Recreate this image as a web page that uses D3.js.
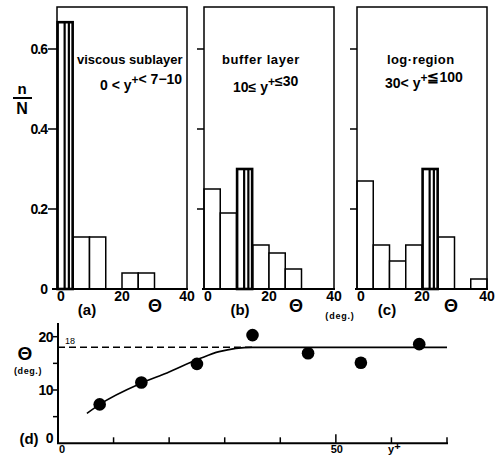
<!DOCTYPE html>
<html>
<head>
<meta charset="utf-8">
<script src="https://cdn.jsdelivr.net/npm/d3@7"></script>
<style>
body { margin: 0; background: #fff; }
svg text { font-family: "Liberation Sans", Arial, sans-serif; font-weight: bold; fill: #000; }
</style>
</head>
<body>
<svg></svg>
<script>
'use strict';

// histogram bins (deg.), 5 deg wide
var binStart = [0, 5, 10, 15, 20, 25, 30, 35];
// n/N in each bin
var viscousFreq = [0.667, 0.13, 0.13, 0, 0.04, 0.04, 0, 0];
var bufferFreq = [0.25, 0.19, 0.30, 0.11, 0.09, 0.05, 0, 0];
var logFreq = [0.27, 0.11, 0.07, 0.11, 0.30, 0.13, 0, 0.025];
// bin holding the mean angle (drawn hatched)
var meanBin = [0, 2, 4];
var histYTicks = [0, 0.2, 0.4, 0.6];
var histYLabels = ['0', '0.2', '0.4', '0.6'];
var histXTicks = [0, 20, 40];

// panel (d): mean angle vs y+
var yPlusPts = [7.5, 15, 25, 35, 45, 54.5, 65];
var thetaPts = [7.3, 11.4, 14.9, 20.3, 16.9, 15.1, 18.6];
var fitYPlus = [5.2, 7.5, 15, 19.6, 25.5, 29, 35, 70];
var fitTheta = [5.6, 7.3, 11.3, 13.2, 15.9, 17.2, 18, 18];
var thetaLimit = 18;
var dXTicks = [0, 10, 20, 30, 40, 50, 60, 70];
var dYTicks = [5, 10, 15, 20];
var dYLabels = [0, 10, 20];

var SVG_SIZE = { width: 495, height: 456 };
var svg = d3.select('svg').attr('width', SVG_SIZE.width).attr('height', SVG_SIZE.height);

// common vertical scale of the three histograms
var HIST = { top: 7, bottom: 289, width: 130 };
var yHist = d3.scaleLinear().domain([0, 0.6]).range([HIST.bottom, 49]);

var panels = [
    { left: 57, freq: viscousFreq, hatch: meanBin[0], tag: '(a)', tagX: 87, thetaX: 155 },
    { left: 204, freq: bufferFreq, hatch: meanBin[1], tag: '(b)', tagX: 240, thetaX: 296 },
    { left: 357, freq: logFreq, hatch: meanBin[2], tag: '(c)', tagX: 387, thetaX: 451 }
];

panels.forEach(function (p, pi) {
    var x = d3.scaleLinear().domain([0, 40]).range([p.left, p.left + HIST.width]);
    var g = svg.append('g');

    var bins = binStart.map(function (b, i) { return { x0: b, x1: b + 5, v: p.freq[i], hatch: i === p.hatch }; })
        .filter(function (d) { return d.v > 0; });

    // plain bars first, hatched one on top
    g.selectAll('rect.bar').data(bins.filter(function (d) { return !d.hatch; }))
        .enter().append('rect').attr('class', 'bar')
        .attr('x', function (d) { return x(d.x0); })
        .attr('y', function (d) { return yHist(d.v); })
        .attr('width', function (d) { return x(d.x1) - x(d.x0); })
        .attr('height', function (d) { return yHist(0) - yHist(d.v); })
        .attr('fill', '#fff').attr('stroke', '#000').attr('stroke-width', 1.5);

    var hb = bins.filter(function (d) { return d.hatch; });
    var hg = g.selectAll('g.hatch').data(hb).enter().append('g').attr('class', 'hatch');
    hg.append('rect')
        .attr('x', function (d) { return x(d.x0) + 0.6; })
        .attr('y', function (d) { return yHist(d.v); })
        .attr('width', function (d) { return x(d.x1) - x(d.x0) - 1.2; })
        .attr('height', function (d) { return yHist(0) - yHist(d.v); })
        .attr('fill', '#fff').attr('stroke', '#000').attr('stroke-width', 2.6);
    [0.47, 0.73].forEach(function (f) {
        hg.append('line')
            .attr('x1', function (d) { return x(d.x0) + f * (x(d.x1) - x(d.x0)); })
            .attr('x2', function (d) { return x(d.x0) + f * (x(d.x1) - x(d.x0)); })
            .attr('y1', function (d) { return yHist(d.v); })
            .attr('y2', yHist(0))
            .attr('stroke', '#000').attr('stroke-width', 2.2);
    });

    // frame
    g.append('rect')
        .attr('x', p.left).attr('y', HIST.top)
        .attr('width', HIST.width).attr('height', HIST.bottom - HIST.top)
        .attr('fill', 'none').attr('stroke', '#000').attr('stroke-width', 1.5);
    g.append('line')
        .attr('x1', p.left - (pi === 0 ? 5 : 2)).attr('x2', p.left + HIST.width + 1)
        .attr('y1', HIST.bottom).attr('y2', HIST.bottom)
        .attr('stroke', '#000').attr('stroke-width', 2);

    // y ticks on the left of the frame
    g.selectAll('line.ytick').data(histYTicks.slice(1)).enter().append('line')
        .attr('x1', p.left - (pi === 0 ? 9 : 7)).attr('x2', p.left)
        .attr('y1', function (d) { return yHist(d); }).attr('y2', function (d) { return yHist(d); })
        .attr('stroke', '#000').attr('stroke-width', 1.5);
    if (pi === 0) {
        g.selectAll('text.ylab').data(histYTicks).enter().append('text')
            .attr('x', p.left - 10).attr('y', function (d) { return yHist(d) + 5; })
            .attr('text-anchor', 'end').style('font-size', '14px').style('letter-spacing', '-1px')
            .text(function (d, i) { return histYLabels[i]; });
    }

    // x tick labels
    g.selectAll('text.xlab').data(histXTicks).enter().append('text')
        .attr('x', function (d) { return x(d) + (d === 0 ? 4 : 0); })
        .attr('y', 301)
        .attr('text-anchor', 'middle').style('font-size', '14px')
        .text(function (d) { return d; });

    g.append('text').attr('x', p.thetaX).attr('y', 312).attr('text-anchor', 'middle')
        .style('font-size', '18px').text('\u0398');
    g.append('text').attr('x', p.tagX).attr('y', 315).attr('text-anchor', 'middle')
        .style('font-size', '15px').text(p.tag);
});

// "(deg.)" under the theta axes
svg.append('text').attr('x', 340).attr('y', 319).attr('text-anchor', 'middle')
    .style('font-size', '9px').style('letter-spacing', '0.8px').text('(deg.)');

// n / N label
svg.append('text').attr('x', 22).attr('y', 94).attr('text-anchor', 'middle').style('font-size', '15px').text('n');
svg.append('line').attr('x1', 13).attr('x2', 32).attr('y1', 98).attr('y2', 98).attr('stroke', '#000').attr('stroke-width', 2);
svg.append('text').attr('x', 22).attr('y', 114).attr('text-anchor', 'middle').style('font-size', '16px').text('N');

// region captions
function caption(x, y, parts) {
    var t = svg.append('text').attr('x', x).attr('y', y).style('font-size', '13px');
    parts.forEach(function (s) {
        if (s === '+') {
            t.append('tspan').attr('dy', -6).style('font-size', '12px').text('+');
            t.append('tspan').attr('dy', 6).text('');
        } else {
            t.append('tspan').text(s);
        }
    });
    return t;
}
caption(77, 64, ['viscous sublayer']);
caption(100, 90, ['0 < y', '+', '< 7\u221210']).style('font-size', '14px');
caption(222, 64, ['buffer layer']).style('letter-spacing', '0.6px');
caption(233, 92, ['10\u2264 y', '+', '\u226430']).style('font-size', '14px');
caption(387, 64, ['log\u00b7region']).style('letter-spacing', '0.4px');
caption(385, 88, ['30< y', '+', '\u2266100']).style('font-size', '14px');

// ---------- panel (d) ----------
var xD = d3.scaleLinear().domain([0, 70]).range([58, 447]);
var yD = d3.scaleLinear().domain([0, 20]).range([443.3, 336.7]);
var gd = svg.append('g');

gd.append('line').attr('x1', xD(0)).attr('x2', xD(0)).attr('y1', yD(0)).attr('y2', 323)
    .attr('stroke', '#000').attr('stroke-width', 2);
gd.append('line').attr('x1', xD(0) - 1).attr('x2', xD(70) + 1).attr('y1', yD(0)).attr('y2', yD(0))
    .attr('stroke', '#000').attr('stroke-width', 2);

gd.selectAll('line.xt').data(dXTicks.slice(1)).enter().append('line')
    .attr('x1', function (d) { return xD(d); }).attr('x2', function (d) { return xD(d); })
    .attr('y1', yD(0)).attr('y2', function (d) { return yD(0) - (d === 50 ? 9 : 6); })
    .attr('stroke', '#000').attr('stroke-width', 1.5);
gd.selectAll('line.yt').data(dYTicks).enter().append('line')
    .attr('x1', xD(0) - 5).attr('x2', xD(0))
    .attr('y1', function (d) { return yD(d); }).attr('y2', function (d) { return yD(d); })
    .attr('stroke', '#000').attr('stroke-width', 1.5);

gd.selectAll('text.yl').data(dYLabels).enter().append('text')
    .attr('x', xD(0) - 5).attr('y', function (d) { return yD(d) + 5 - (d === 0 ? 5 : 0); })
    .attr('text-anchor', 'end').style('font-size', '14px').style('letter-spacing', '-0.5px')
    .text(function (d) { return d; });

// x labels sit right at the bottom edge, as in the scan
gd.selectAll('text.xl').data([0, 50]).enter().append('text')
    .attr('x', function (d) { return xD(d) + (d === 0 ? 4 : 1); }).attr('y', 452.5)
    .attr('text-anchor', 'middle').style('font-size', '11px').text(function (d) { return d; });
var yl = gd.append('text').attr('x', 388).attr('y', 452.5).style('font-size', '11px');
yl.append('tspan').text('y');
yl.append('tspan').attr('dy', -3).text('+');

// dashed reference at 18 deg and its label
gd.append('line').attr('x1', xD(0)).attr('x2', xD(35)).attr('y1', yD(thetaLimit)).attr('y2', yD(thetaLimit))
    .attr('stroke', '#000').attr('stroke-width', 1.5).attr('stroke-dasharray', '7,4');
gd.append('text').attr('x', 65).attr('y', yD(thetaLimit) - 3).style('font-size', '9px').style('font-weight', 'normal')
    .text(thetaLimit);

// fitted curve
var fit = fitYPlus.map(function (v, i) { return [v, fitTheta[i]]; });
gd.append('path').datum(fit)
    .attr('d', d3.line().x(function (d) { return xD(d[0]); }).y(function (d) { return yD(d[1]); }).curve(d3.curveMonotoneX))
    .attr('fill', 'none').attr('stroke', '#000').attr('stroke-width', 1.6);

gd.selectAll('circle').data(yPlusPts).enter().append('circle')
    .attr('cx', function (d) { return xD(d); })
    .attr('cy', function (d, i) { return yD(thetaPts[i]); })
    .attr('r', 6.3).attr('fill', '#000');

gd.append('text').attr('x', 25).attr('y', 360).attr('text-anchor', 'middle').style('font-size', '19px').text('\u0398');
gd.append('text').attr('x', 28).attr('y', 374).attr('text-anchor', 'middle')
    .style('font-size', '9px').style('letter-spacing', '0.6px').text('(deg.)');
gd.append('text').attr('x', 29).attr('y', 444).attr('text-anchor', 'middle').style('font-size', '15px').text('(d)');
</script>
</body>
</html>
